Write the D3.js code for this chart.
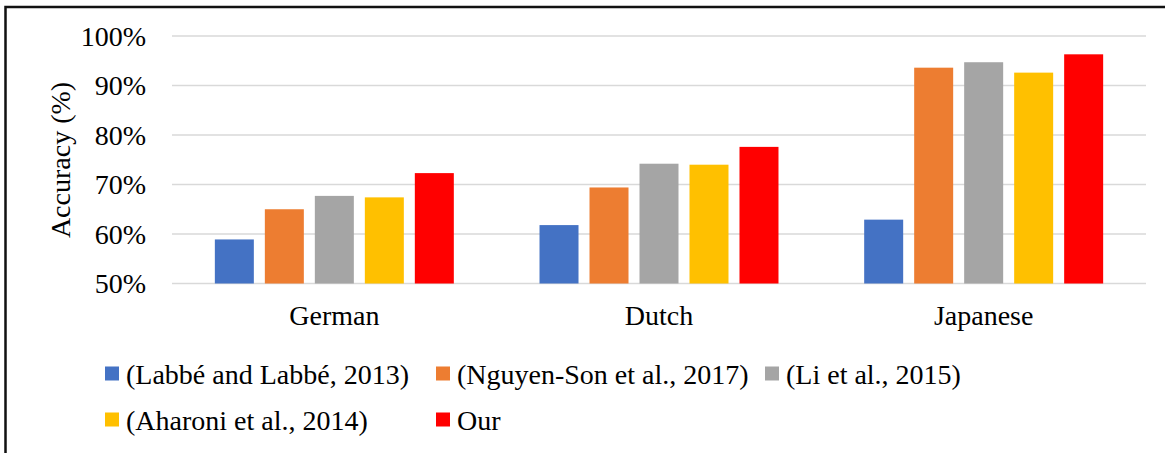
<!DOCTYPE html>
<html>
<head>
	<meta charset="utf-8">
	<title>Accuracy by language</title>
	<script src="https://d3js.org/d3.v7.min.js"></script>
	<style>
		body { margin: 0; background: #fff; }
		svg text { font-family: "Liberation Serif", "Times New Roman", Tinos, "DejaVu Serif", serif; fill: #000; }
	</style>
</head>
<body>
	<div class="chart"></div>

	<script type="text/javascript">
		// data
		const languages = ['German', 'Dutch', 'Japanese']
		const methods = [
			'(Labbé and Labbé, 2013)',
			'(Nguyen-Son et al., 2017)',
			'(Li et al., 2015)',
			'(Aharoni et al., 2014)',
			'Our'
		]
		const labbe = [58.9, 61.8, 62.9]
		const nguyen = [65.0, 69.4, 93.6]
		const li = [67.7, 74.2, 94.7]
		const aharoni = [67.4, 74.0, 92.6]
		const ours = [72.3, 77.6, 96.3]
		const yTicks = [50, 60, 70, 80, 90, 100]
		const colors = ['#4472C4', '#ED7D31', '#A5A5A5', '#FFC000', '#FF0000']

		const seriesValues = [labbe, nguyen, li, aharoni, ours]

		var width = 1165
		var height = 453
		var font = '"Liberation Serif", "Times New Roman", Tinos, "DejaVu Serif", serif'

		var svg = d3
			.select('.chart')
			.append('svg')
			.attr('width', width)
			.attr('height', height)
			.attr('font-family', font)

		// outer frame (right/bottom sides fall off the picture)
		svg.append('rect')
			.attr('x', 5.5)
			.attr('y', 7)
			.attr('width', width + 10)
			.attr('height', height + 10)
			.attr('fill', 'none')
			.attr('stroke', '#111')
			.attr('stroke-width', 2.5)

		/**
		 * scales
		 */
		const x0 = d3.scaleBand().domain(languages).range([172, 1146])
		const x1 = d3.scaleBand()
			.domain(methods)
			.range([0, x0.bandwidth()])
			.paddingInner(0.22)
			.paddingOuter(0.857)
		const y = d3.scaleLinear().domain([50, 100]).range([283.5, 36])

		// gridlines
		svg.append('g')
			.selectAll('line')
			.data(yTicks)
			.join('line')
			.attr('x1', 172)
			.attr('x2', 1146)
			.attr('y1', (d) => y(d))
			.attr('y2', (d) => y(d))
			.attr('stroke', '#d9d9d9')
			.attr('stroke-width', 1.5)

		// tick labels
		svg.append('g')
			.selectAll('text')
			.data(yTicks)
			.join('text')
			.attr('x', 146)
			.attr('y', (d) => y(d))
			.attr('dy', '0.35em')
			.attr('text-anchor', 'end')
			.style('font-size', '28px')
			.text((d) => d + '%')

		// axis title
		svg.append('text')
			.attr('transform', 'translate(60, 160) rotate(-90)')
			.attr('text-anchor', 'middle')
			.attr('dy', '0.35em')
			.style('font-size', '28px')
			.text('Accuracy (%)')

		// bars
		const rows = []
		methods.forEach((m, si) => {
			languages.forEach((lang, li2) => {
				rows.push({ method: m, lang: lang, value: seriesValues[si][li2], color: colors[si] })
			})
		})

		svg.append('g')
			.selectAll('rect')
			.data(rows)
			.join('rect')
			.attr('x', (d) => x0(d.lang) + x1(d.method))
			.attr('y', (d) => y(d.value))
			.attr('width', x1.bandwidth())
			.attr('height', (d) => y(50) - y(d.value))
			.attr('fill', (d) => d.color)

		// category labels
		svg.append('g')
			.selectAll('text')
			.data(languages)
			.join('text')
			.attr('x', (d) => x0(d) + x0.bandwidth() / 2)
			.attr('y', 325)
			.attr('text-anchor', 'middle')
			.style('font-size', '28px')
			.text((d) => d)

		/**
		 * legend
		 */
		const legendCols = [105, 436, 765]
		const legendRows = [374, 420]
		const legend = svg.append('g')
			.selectAll('g')
			.data(methods)
			.join('g')
			.attr('transform', (d, i) => `translate(${legendCols[i % 3]}, ${legendRows[Math.floor(i / 3)]})`)

		legend.append('rect')
			.attr('x', 0)
			.attr('y', -7.5)
			.attr('width', 14)
			.attr('height', 14)
			.attr('fill', (d, i) => colors[i])

		legend.append('text')
			.attr('x', 21)
			.attr('dy', '0.35em')
			.style('font-size', '28px')
			.text((d) => d)
	</script>
</body>
</html>
